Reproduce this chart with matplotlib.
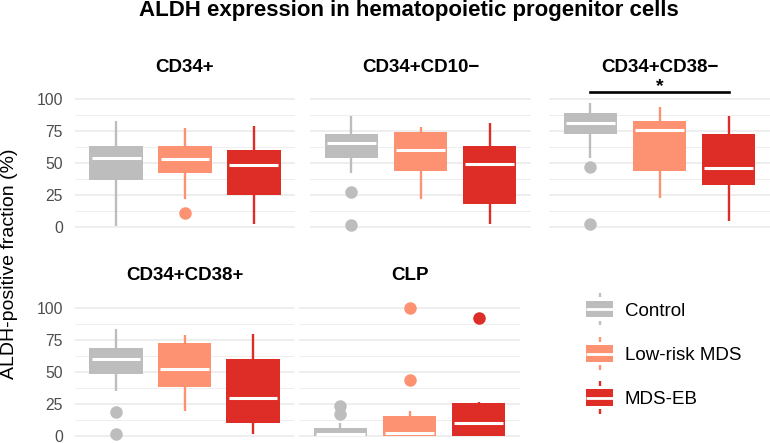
import matplotlib.pyplot as plt
from matplotlib.patches import Rectangle

plt.rcParams['font.family'] = ['Liberation Sans', 'DejaVu Sans']

# datos (resumen de cajas por panel y grupo)
paneles = ['CD34+', 'CD34+CD10−', 'CD34+CD38−', 'CD34+CD38+', 'CLP']
grupos = ['Control', 'Low-risk MDS', 'MDS-EB']
colores = ['#BDBDBD', '#FC9272', '#DE2D26']

bigote_bajo = [[1, 22, 2], [42, 22, 2], [54, 23, 5], [35, 19, 1], [0, 0, 0]]
q1 = [[37, 42, 25], [54, 44, 18], [73, 44, 33], [48, 38, 10], [0, 0, 0]]
mediana = [[54, 53, 48.5], [65.5, 60, 49], [81.5, 76, 46], [59.5, 52, 29.5], [1.5, 2, 9.5]]
q3 = [[63, 63, 60], [72.5, 74.5, 63], [89, 83, 73], [68, 72.5, 59.5], [5.5, 15, 25.5]]
bigote_alto = [[83, 77, 79], [86.5, 78, 81], [96.5, 93.5, 86.5], [83, 78.5, 79.5], [10, 19.5, 26]]
atipicos = [[[], [11], []],
            [[27, 1.5], [], []],
            [[47, 2], [], []],
            [[18, 1], [], []],
            [[23, 16.5], [100, 43.5], [92]]]

W, H = 770, 443
ppu = 1.28  # pixeles por unidad en y
ylim = (-5, 110)
panel_x = [(75, 295), (310, 531), (549, 770), (75, 294), (299, 520)]
cero_y = [227, 227, 227, 435.5, 435.5]

fig = plt.figure(figsize=(W / 100, H / 100), dpi=100)

for i, nombre in enumerate(paneles):
    x0, x1 = panel_x[i]
    ybot = cero_y[i] - ylim[0] * ppu
    ytop = cero_y[i] - ylim[1] * ppu
    ax = fig.add_axes([x0 / W, 1 - ybot / H, (x1 - x0) / W, (ybot - ytop) / H])

    stats = []
    for g in range(3):
        stats.append(dict(whislo=bigote_bajo[i][g], q1=q1[i][g], med=mediana[i][g],
                          q3=q3[i][g], whishi=bigote_alto[i][g], fliers=atipicos[i][g]))
    bp = ax.bxp(stats, positions=[1, 2, 3], widths=0.78, patch_artist=True,
                showcaps=False,
                boxprops=dict(linewidth=0),
                whiskerprops=dict(linewidth=1.7, solid_capstyle='butt'),
                medianprops=dict(color='white', linewidth=2.2, solid_capstyle='butt'),
                flierprops=dict(marker='o', markersize=9, markeredgewidth=0))
    for g, c in enumerate(colores):
        bp['boxes'][g].set_facecolor(c)
        bp['boxes'][g].set_edgecolor(c)
        bp['whiskers'][2 * g].set_color(c)
        bp['whiskers'][2 * g + 1].set_color(c)
        bp['fliers'][g].set_markerfacecolor(c)
        xs = bp['medians'][g].get_xdata()
        bp['medians'][g].set_xdata([xs[0] + 0.035, xs[1] - 0.035])

    ax.set_xlim(0.4, 3.6)
    ax.set_ylim(*ylim)
    ax.set_xticks([])
    ax.set_yticks([0, 25, 50, 75, 100])
    ax.set_yticks([12.5, 37.5, 62.5, 87.5], minor=True)
    ax.grid(which='major', axis='y', color='#EBEBEB', linewidth=1.2)
    ax.grid(which='minor', axis='y', color='#EBEBEB', linewidth=0.6)
    ax.set_axisbelow(True)
    for s in ax.spines.values():
        s.set_visible(False)
    ax.tick_params(axis='y', which='both', length=0, pad=8.6, labelsize=11.3,
                   labelcolor='#4D4D4D', labelleft=(i in (0, 3)))
    ax.set_title(nombre, fontsize=13.5, fontweight='bold', pad=10.5)

    if nombre == 'CD34+CD38−':
        ax.plot([1, 3], [105.7, 105.7], color='black', linewidth=1.9, clip_on=False)
        ax.text(2, 106.5, '*', ha='center', va='baseline', fontsize=14,
                fontweight='bold', clip_on=False)

fig.text(409 / W, 1 - 16 / H, 'ALDH expression in hematopoietic progenitor cells',
         ha='center', va='baseline', fontsize=16, fontweight='bold')
fig.text(10 / W, 1 - 264 / H, 'ALDH-positive fraction (%)', rotation=90,
         ha='center', va='center', fontsize=14)

# leyenda dibujada a mano
lax = fig.add_axes([0, 0, 1, 1])
lax.set_xlim(0, W)
lax.set_ylim(H, 0)
lax.axis('off')
lax.patch.set_alpha(0)
leyenda_y = [309, 353.5, 397.5]
for g, c in enumerate(colores):
    yc = leyenda_y[g]
    lax.add_patch(Rectangle((586, yc - 8.3), 27, 16.6, facecolor=c, edgecolor='none'))
    lax.plot([586, 613], [yc, yc], color='white', linewidth=2, solid_capstyle='butt')
    lax.plot([599.5, 599.5], [yc - 16.3, yc - 11.7], color=c, linewidth=1.7, solid_capstyle='butt')
    lax.plot([599.5, 599.5], [yc + 11.7, yc + 16.3], color=c, linewidth=1.7, solid_capstyle='butt')
    lax.text(625, yc + 7, grupos[g], ha='left', va='baseline', fontsize=13.5)

fig.savefig('out.png', dpi=100)
